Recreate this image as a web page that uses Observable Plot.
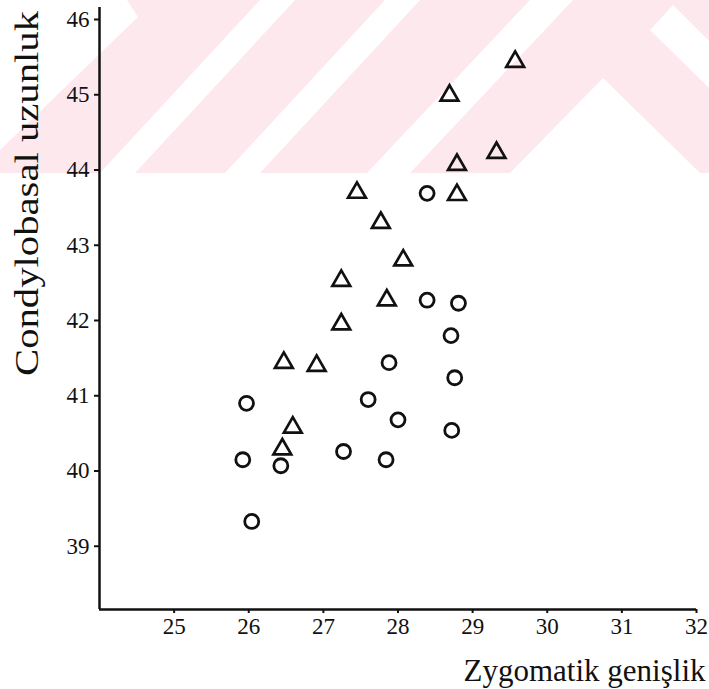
<!DOCTYPE html>
<html>
<head>
<meta charset="utf-8">
<script src="https://cdn.jsdelivr.net/npm/d3@7"></script>
<script src="https://cdn.jsdelivr.net/npm/@observablehq/plot@0.6"></script>
<style>
  html, body { margin: 0; padding: 0; background: #fff; }
  #wrap { position: relative; width: 709px; height: 689px; overflow: hidden; }
  #wm { position: absolute; left: 0; top: 0; }
  #chart { position: absolute; left: 0; top: 0; }
</style>
</head>
<body>
<div id="wrap">
  <!-- faint watermark of the scanned page -->
  <svg id="wm" width="709" height="689">
    <rect x="0" y="0" width="709" height="173" fill="#fde9ed"></rect>
    <g fill="#ffffff">
      <polygon points="0,0 127,0 138,17 0,150"></polygon>
      <polygon points="260,0 295,0 135,173 100,173"></polygon>
      <polygon points="385,0 420,0 260,173 225,173"></polygon>
      <polygon points="530,0 573,0 410,173 367,173"></polygon>
      <polygon points="510,173 603,78 700,173"></polygon>
      <polygon points="650,30 673,5 709,41 709,88"></polygon>
    </g>
  </svg>
  <div id="chart"></div>
</div>
<script>
// ---- data ----
const xTitle = "Zygomatik genişlik";
const yTitle = "Condylobasal uzunluk";
const xTicks = [25, 26, 27, 28, 29, 30, 31, 32];
const yTicks = [39, 40, 41, 42, 43, 44, 45, 46];

// triangles
const triX = [29.57, 28.69, 29.32, 28.79, 28.79, 27.45, 27.77, 28.07, 27.24, 27.85, 27.24, 26.47, 26.91, 26.59, 26.45];
const triY = [45.28, 44.83, 44.07, 43.91, 43.51, 43.54, 43.14, 42.64, 42.37, 42.11, 41.79, 41.28, 41.24, 40.42, 40.13];

// circles
const circX = [28.39, 28.39, 28.81, 28.71, 27.88, 28.76, 25.97, 27.60, 28.00, 28.72, 27.27, 25.92, 26.43, 27.84, 26.04];
const circY = [43.53, 42.11, 42.07, 41.64, 41.28, 41.08, 40.74, 40.79, 40.52, 40.38, 40.10, 39.99, 39.91, 39.99, 39.17];

const tris = triX.map((x, i) => ({x, y: triY[i]}));
const circs = circX.map((x, i) => ({x, y: circY[i]}));

const ink = "#111";
const font = "'Liberation Serif', 'Times New Roman', serif";

const svg = Plot.plot({
  width: 709,
  height: 689,
  marginLeft: 99,
  marginRight: 13,
  marginTop: 7,
  marginBottom: 80,
  style: {background: "transparent", fontFamily: font, color: ink, overflow: "visible"},
  x: {domain: [24, 32]},
  y: {domain: [38, 46]},
  marks: [
    Plot.ruleX([24], {stroke: ink, strokeWidth: 2.5}),
    Plot.ruleY([38], {stroke: ink, strokeWidth: 2.5}),
    Plot.axisX({ticks: xTicks, tickSize: 4, tickPadding: 4, fontSize: 23, label: null, stroke: ink, strokeWidth: 2, fill: ink}),
    Plot.axisY({ticks: yTicks, tickSize: 5, tickPadding: 5, fontSize: 23, dy: 12, label: null, stroke: ink, strokeWidth: 2, fill: ink}),
    Plot.dot(circs, {x: "x", y: "y", r: 7, stroke: ink, strokeWidth: 2.8, fill: "none"}),
    Plot.dot(tris, {x: "x", y: "y", symbol: "triangle", r: 6.6, stroke: ink, strokeWidth: 2.7, fill: "none"}),
    Plot.text([yTitle], {frameAnchor: "top-left", dx: -72, dy: 186, rotate: -90, fontSize: 33, textAnchor: "middle", lineAnchor: "middle", fill: ink}),
    Plot.text([xTitle], {frameAnchor: "bottom-right", dx: 9, dy: 62, fontSize: 31, textAnchor: "end", lineAnchor: "middle", fill: ink})
  ]
});

d3.select(svg).selectAll("text")
  .filter(function () { return this.textContent === yTitle; })
  .attr("textLength", 365)
  .attr("lengthAdjust", "spacingAndGlyphs");

document.getElementById("chart").appendChild(svg);
</script>
</body>
</html>
